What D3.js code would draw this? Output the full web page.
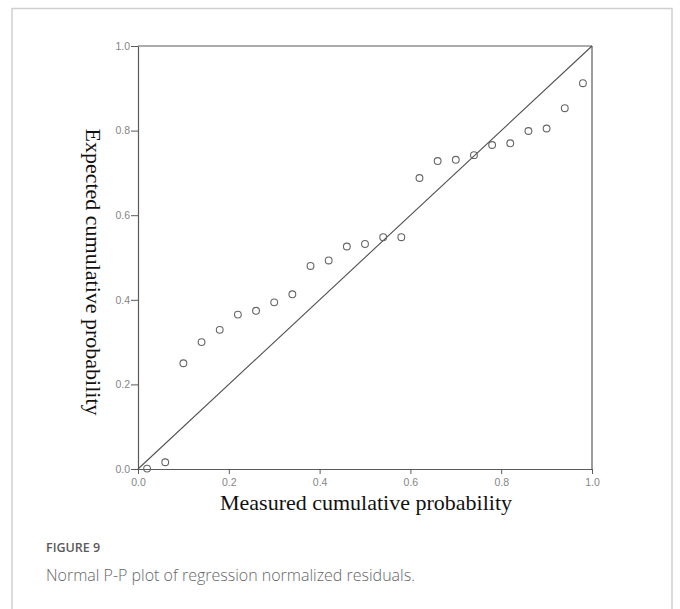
<!DOCTYPE html>
<html>
<head>
<meta charset="utf-8">
<script src="https://cdn.jsdelivr.net/npm/d3@7"></script>
<style>
  html, body { margin: 0; padding: 0; background: #fff; }
  svg { display: block; }
</style>
</head>
<body>
<svg id="chart" width="680" height="609"></svg>
<script>
// Observed (measured) cumulative probability of each residual
const measured = [0.02, 0.06, 0.10, 0.14, 0.18, 0.22, 0.26, 0.30, 0.34, 0.38,
                  0.42, 0.46, 0.50, 0.54, 0.58, 0.62, 0.66, 0.70, 0.74, 0.78,
                  0.82, 0.86, 0.90, 0.94, 0.98];
// Expected cumulative probability under normality
const expected = [0.001, 0.016, 0.250, 0.300, 0.329, 0.365, 0.374, 0.394, 0.413, 0.480,
                  0.493, 0.526, 0.532, 0.548, 0.548, 0.688, 0.728, 0.731, 0.742, 0.766,
                  0.770, 0.799, 0.805, 0.853, 0.912];
// Axis ticks and the reference line endpoints
const tickValues = [0.0, 0.2, 0.4, 0.6, 0.8, 1.0];
const refLine = [0, 1];

const xTitle = "Measured cumulative probability";
const yTitle = "Expected cumulative probability";
const figLabel = "FIGURE 9";
const figCaption = "Normal P-P plot of regression normalized residuals.";

const svg = d3.select("#chart");

// outer card border
svg.append("rect")
  .attr("x", 12).attr("y", 8.5)
  .attr("width", 660).attr("height", 620)
  .attr("fill", "none")
  .attr("stroke", "#cfcfcf")
  .attr("stroke-width", 1.5);

const x = d3.scaleLinear().domain([0, 1]).range([138, 592]);
const y = d3.scaleLinear().domain([0, 1]).range([469, 46]);

const axisColor = "#5a5a5a";

// top and right frame lines
svg.append("line")
  .attr("x1", x(0)).attr("x2", x(1)).attr("y1", y(1)).attr("y2", y(1))
  .attr("stroke", axisColor).attr("stroke-width", 1.2);
svg.append("line")
  .attr("x1", x(1)).attr("x2", x(1)).attr("y1", y(0)).attr("y2", y(1))
  .attr("stroke", axisColor).attr("stroke-width", 1.2);

const fmt = d3.format(".1f");

const xAxis = svg.append("g")
  .attr("transform", `translate(0,${y(0)})`)
  .call(d3.axisBottom(x).tickValues(tickValues).tickFormat(fmt).tickSizeOuter(0).tickSizeInner(5).tickPadding(5));
const yAxis = svg.append("g")
  .attr("transform", `translate(${x(0)},0)`)
  .call(d3.axisLeft(y).tickValues(tickValues).tickFormat(fmt).tickSizeOuter(0).tickSizeInner(7).tickPadding(1));

[xAxis, yAxis].forEach(g => {
  g.select(".domain").attr("stroke", axisColor).attr("stroke-width", 1.2);
  g.selectAll(".tick line").attr("stroke", axisColor).attr("stroke-width", 1);
  g.selectAll(".tick text")
    .attr("fill", "#858585")
    .style("font-family", "'Liberation Sans', Arial, sans-serif")
    .style("font-size", "10.5px");
});

// diagonal reference line
svg.append("line")
  .attr("x1", x(refLine[0])).attr("y1", y(refLine[0]))
  .attr("x2", x(refLine[1])).attr("y2", y(refLine[1]))
  .attr("stroke", "#505050").attr("stroke-width", 1.1);

// P-P points
svg.append("g").selectAll("circle")
  .data(measured.map((m, i) => [m, expected[i]]))
  .join("circle")
  .attr("cx", d => x(d[0]))
  .attr("cy", d => y(d[1]))
  .attr("r", 3.4)
  .attr("fill", "none")
  .attr("stroke", "#666")
  .attr("stroke-width", 1.1);

// axis titles
svg.append("text")
  .attr("x", 366).attr("y", 510)
  .attr("text-anchor", "middle")
  .attr("fill", "#111")
  .style("font-family", "'Liberation Serif', 'Times New Roman', serif")
  .style("font-size", "22px")
  .text(xTitle);

svg.append("text")
  .attr("transform", "translate(86,272) rotate(90)")
  .attr("text-anchor", "middle")
  .attr("fill", "#111")
  .style("font-family", "'Liberation Serif', 'Times New Roman', serif")
  .style("font-size", "22px")
  .text(yTitle);

// figure caption
svg.append("text")
  .attr("x", 46).attr("y", 552)
  .attr("fill", "#5a5a5a")
  .style("font-family", "'Open Sans', sans-serif")
  .style("font-size", "12.5px")
  .style("font-weight", "600")
  .text(figLabel);

svg.append("text")
  .attr("x", 46).attr("y", 581)
  .attr("fill", "#666")
  .style("font-family", "'Open Sans', sans-serif")
  .style("font-size", "16px")
  .style("font-weight", "300")
  .text(figCaption);
</script>
</body>
</html>
